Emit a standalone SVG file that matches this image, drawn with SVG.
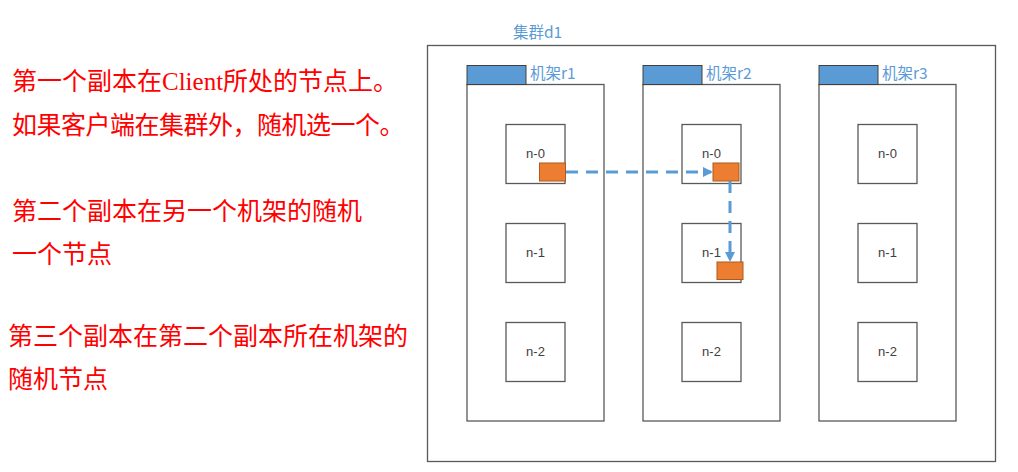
<svg xmlns="http://www.w3.org/2000/svg" width="1018" height="472" viewBox="0 0 1018 472">
<defs>
<style>
.box{fill:#fff;stroke:#595959;stroke-width:1.3}
.tab{fill:#5B9BD5;stroke:#404040;stroke-width:1}
.lbl{font-family:"Noto Sans CJK SC","Liberation Sans",sans-serif;font-size:15.5px;fill:#5B9BD5}
.nt{font-family:"Liberation Sans","Noto Sans",sans-serif;font-size:13px;fill:#404040;text-anchor:middle}
.rep{fill:#ED7D31;stroke:#AE5A21;stroke-width:1}
.red{font-family:"Liberation Serif","Noto Sans CJK SC",serif;font-size:25px;fill:#FF0000}
.cjk{font-family:"Noto Sans CJK SC",sans-serif}
.flow{fill:none;stroke:#5B9BD5;stroke-width:3;stroke-dasharray:12 8}
</style>
<marker id="ah" markerWidth="10" markerHeight="10" refX="8" refY="5" orient="auto" markerUnits="userSpaceOnUse">
<path d="M0,0 L10,5 L0,10 Z" fill="#5B9BD5"/>
</marker>
</defs>
<rect width="1018" height="472" fill="#fff"/>

<g id="notes">
<text class="red" x="12" y="90">第一个副本在Client所处的节点上。</text>
<text class="red" x="12" y="134" letter-spacing="-0.5">如果客户端在集群外<tspan class="cjk">，</tspan>随机选一个。</text>
<text class="red" x="12" y="220">第二个副本在另一个机架的随机</text>
<text class="red" x="12" y="263">一个节点</text>
<text class="red" x="8" y="345">第三个副本在第二个副本所在机架的</text>
<text class="red" x="8" y="388">随机节点</text>
</g>

<g id="cluster-d1">
<rect class="box" x="427.5" y="45.5" width="568" height="416"/>
<text class="lbl" x="513" y="38">集群d1</text>
</g>

<g id="rack-r1">
<rect class="box" x="467" y="84.5" width="137" height="336.5"/>
<rect class="tab" x="467" y="65.5" width="59" height="19"/>
<text class="lbl" x="530" y="79">机架r1</text>
</g>
<g id="rack-r2">
<rect class="box" x="643" y="84.5" width="137" height="336.5"/>
<rect class="tab" x="643" y="65.5" width="59" height="19"/>
<text class="lbl" x="706" y="79">机架r2</text>
</g>
<g id="rack-r3">
<rect class="box" x="819" y="84.5" width="137" height="336.5"/>
<rect class="tab" x="819" y="65.5" width="59" height="19"/>
<text class="lbl" x="882" y="79">机架r3</text>
</g>

<g id="r1-n0"><rect class="box" x="506" y="124.5" width="59" height="59"/><text class="nt" x="535.5" y="158">n-0</text></g>
<g id="r1-n1"><rect class="box" x="506" y="223.5" width="59" height="59"/><text class="nt" x="535.5" y="257">n-1</text></g>
<g id="r1-n2"><rect class="box" x="506" y="322.5" width="59" height="59"/><text class="nt" x="535.5" y="356">n-2</text></g>
<g id="r2-n0"><rect class="box" x="682" y="124.5" width="59" height="59"/><text class="nt" x="711.5" y="158">n-0</text></g>
<g id="r2-n1"><rect class="box" x="682" y="223.5" width="59" height="59"/><text class="nt" x="711.5" y="257">n-1</text></g>
<g id="r2-n2"><rect class="box" x="682" y="322.5" width="59" height="59"/><text class="nt" x="711.5" y="356">n-2</text></g>
<g id="r3-n0"><rect class="box" x="858" y="124.5" width="59" height="59"/><text class="nt" x="887.5" y="158">n-0</text></g>
<g id="r3-n1"><rect class="box" x="858" y="223.5" width="59" height="59"/><text class="nt" x="887.5" y="257">n-1</text></g>
<g id="r3-n2"><rect class="box" x="858" y="322.5" width="59" height="59"/><text class="nt" x="887.5" y="356">n-2</text></g>

<g id="replicas">
<rect class="rep" x="539.5" y="163" width="26" height="18"/>
<rect class="rep" x="713" y="163" width="26" height="18"/>
<rect class="rep" x="717" y="262" width="26" height="17.5"/>
</g>

<g id="connectors">
<path class="flow" d="M566,172 H711" marker-end="url(#ah)"/>
<path class="flow" d="M730,181 V260" marker-end="url(#ah)"/>
</g>
</svg>
